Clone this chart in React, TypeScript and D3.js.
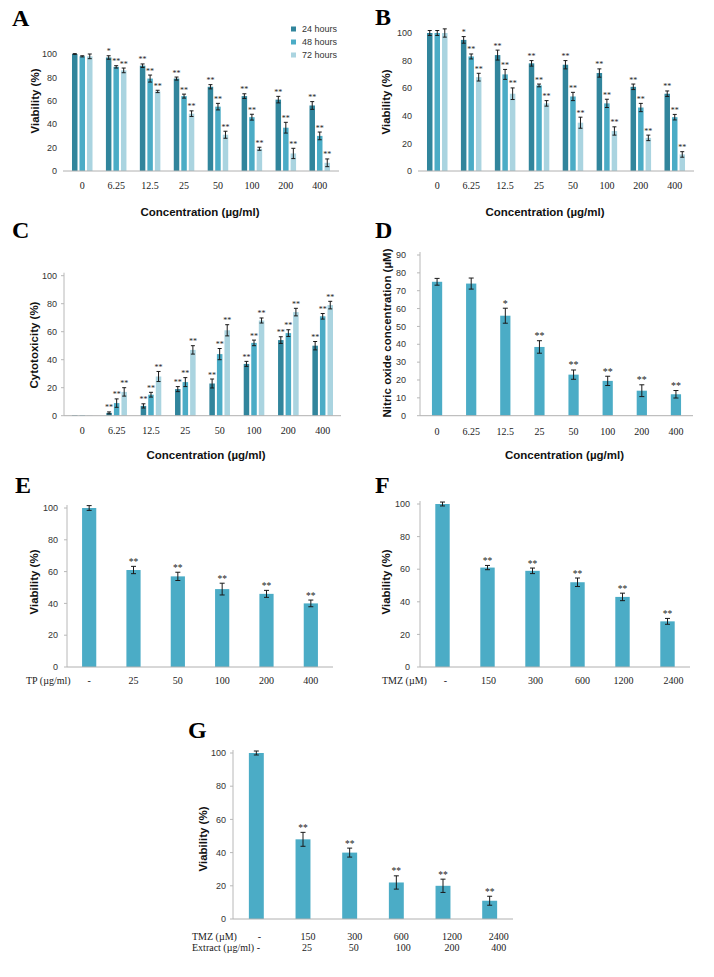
import React from "react";
import * as d3 from "d3";

const SANS = "'Liberation Sans', Arial, sans-serif";
const SERIF = "'Liberation Serif', 'Times New Roman', serif";

// ---------- data ----------
const concLabels = ["0", "6.25", "12.5", "25", "50", "100", "200", "400"];
const timeSeries = ["24 hours", "48 hours", "72 hours"];
const timeColors = ["#31859c", "#4bacc6", "#aad4e0"];
const singleColor = "#4bacc6";

const aMean24 = [100, 97, 90, 79, 72, 64, 61, 56];
const aMean48 = [98, 89, 79, 64, 55, 46, 37, 30];
const aMean72 = [98, 86, 68, 49, 31, 19, 15, 7];
const aErr24 = [0.3, 1.5, 1.5, 1.3, 1.8, 2, 2.8, 3.3];
const aErr48 = [0.5, 1, 3, 1.7, 2.8, 2.5, 4.6, 3.3];
const aErr72 = [2, 2, 1, 2.4, 3, 1.3, 4.4, 3.3];
const aSig24 = ["", "*", "**", "**", "**", "**", "**", "**"];
const aSig48 = ["", "**", "**", "**", "**", "**", "**", "**"];
const aSig72 = ["", "**", "**", "**", "**", "**", "**", "**"];

const bMean24 = [100, 95, 84, 78, 77, 71, 61, 56];
const bMean48 = [100, 83, 70, 62, 54, 49, 46, 39];
const bMean72 = [100, 68, 56, 49, 35, 29, 24, 12];
const bErr24 = [1.8, 2.4, 3.6, 2, 3, 3, 2, 2];
const bErr48 = [1.8, 1.8, 3.6, 1, 3, 3, 3, 2];
const bErr72 = [3, 2.8, 4.2, 2, 4, 3, 2, 2];
const bSig24 = ["", "*", "**", "**", "**", "**", "**", "**"];
const bSig48 = ["", "**", "**", "**", "**", "**", "**", "**"];
const bSig72 = ["", "**", "**", "**", "**", "**", "**", "**"];

const cMean24 = [0.5, 2, 7, 19, 23, 37, 54, 50];
const cMean48 = [0.5, 9, 15, 24, 44, 52, 59, 71];
const cMean72 = [0.3, 17, 28, 47, 61, 68, 74, 79];
const cErr24 = [0, 0.7, 1.5, 1.8, 3.2, 1.8, 2.4, 3];
const cErr48 = [0, 3, 1.7, 3.2, 4, 2, 2.4, 2];
const cErr72 = [0, 3, 3.6, 3, 4, 1.8, 2.7, 2.7];
const cSig24 = ["", "**", "**", "**", "**", "**", "**", "**"];
const cSig48 = ["", "**", "**", "**", "**", "**", "**", "**"];
const cSig72 = ["", "**", "**", "**", "**", "**", "**", "**"];

const dMean = [75, 74, 56, 38.5, 23, 19.5, 14, 12];
const dErr = [1.9, 3.1, 4.2, 3.5, 2.6, 2.6, 3.3, 2.1];
const dSig = ["", "", "*", "**", "**", "**", "**", "**"];

const tpLabels = ["-", "25", "50", "100", "200", "400"];
const eMean = [100, 61, 57, 49, 46, 40];
const eErr = [1.5, 2.3, 2.6, 3.7, 2.2, 2.1];
const eSig = ["", "**", "**", "**", "**", "**"];

const tmzLabels = ["-", "150", "300", "600", "1200", "2400"];
const fMean = [100, 61, 59, 52, 43, 28];
const fErr = [1.2, 1.3, 1.7, 2.6, 2.3, 1.8];
const fSig = ["", "**", "**", "**", "**", "**"];

const extractLabels = ["-", "25", "50", "100", "200", "400"];
const gMean = [100, 48, 40, 22, 20, 11];
const gErr = [1.2, 4.2, 2.7, 4, 4, 2.7];
const gSig = ["", "**", "**", "**", "**", "**"];

// ---------- component ----------
interface Series {
  name: string;
  color: string;
  mean: number[];
  err: number[];
  sig: string[];
}

interface LabelRow {
  values: string[];
  y: number;
  dx?: number[];
}

interface PanelProps {
  categories: string[];
  series: Series[];
  x0: number;
  x1: number;
  inner: number;
  outer: number;
  subPad: number;
  yBase: number;
  yTop: number;
  yMax: number;
  tickStep: number;
  axisLine: boolean;
  labelRight: number;
  tickFont: number;
  rows: LabelRow[];
  capW: number;
  sigFont: number;
}

function BarPanel(p: PanelProps) {
  const x = d3
    .scaleBand<string>()
    .domain(p.categories)
    .range([p.x0, p.x1])
    .paddingInner(p.inner)
    .paddingOuter(p.outer);
  const sub = d3
    .scaleBand<string>()
    .domain(p.series.map((s) => s.name))
    .range([0, x.bandwidth()])
    .paddingInner(p.subPad)
    .paddingOuter(0);
  const y = d3.scaleLinear().domain([0, p.yMax]).range([p.yBase, p.yTop]);
  const ticks = d3.range(0, p.yMax + p.tickStep / 2, p.tickStep);
  return (
    <g>
      {p.axisLine && (
        <line x1={p.x0} x2={p.x0} y1={p.yBase} y2={p.yTop - 3} stroke="#b8b8b8" strokeWidth={1} />
      )}
      {ticks.map((t) => (
        <g key={t}>
          {p.axisLine && (
            <line x1={p.x0 - 3} x2={p.x0} y1={y(t)} y2={y(t)} stroke="#b8b8b8" strokeWidth={1} />
          )}
          <text
            x={p.labelRight}
            y={y(t)}
            dy="0.35em"
            textAnchor="end"
            fontFamily={SANS}
            fontSize={p.tickFont}
            fill="#333"
          >
            {t}
          </text>
        </g>
      ))}
      {p.series.map((s) =>
        p.categories.map((c, i) => {
          const bx = (x(c) as number) + (sub(s.name) as number);
          const w = sub.bandwidth();
          const cx = bx + w / 2;
          const v = s.mean[i];
          const e = s.err[i];
          const top = y(v + e);
          return (
            <g key={s.name + c}>
              <rect x={bx} y={y(v)} width={w} height={p.yBase - y(v)} fill={s.color} />
              {e > 0 && (
                <g stroke="#1a1a1a" strokeWidth={1}>
                  <line x1={cx} x2={cx} y1={y(v - e)} y2={top} />
                  <line x1={cx - p.capW / 2} x2={cx + p.capW / 2} y1={top} y2={top} />
                  <line x1={cx - p.capW / 2} x2={cx + p.capW / 2} y1={y(v - e)} y2={y(v - e)} />
                </g>
              )}
              {s.sig[i] && (
                <text
                  x={cx}
                  y={top - 1.5}
                  textAnchor="middle"
                  fontFamily={SERIF}
                  fontSize={p.sigFont}
                  fill="#1a1a1a"
                >
                  {s.sig[i]}
                </text>
              )}
            </g>
          );
        })
      )}
      <line x1={p.x0} x2={p.x1} y1={p.yBase} y2={p.yBase} stroke="#b0b0b0" strokeWidth={1} />
      {p.rows.map((r, ri) =>
        p.categories.map((c, i) => (
          <text
            key={ri + "-" + c}
            x={(x(c) as number) + x.bandwidth() / 2 + (r.dx ? r.dx[i] : 0)}
            y={r.y}
            textAnchor="middle"
            fontFamily={SERIF}
            fontSize={10}
            fill="#1a1a1a"
          >
            {r.values[i]}
          </text>
        ))
      )}
    </g>
  );
}

function YTitle({ x, y, text }: { x: number; y: number; text: string }) {
  return (
    <text
      transform={`translate(${x},${y}) rotate(-90)`}
      textAnchor="middle"
      dominantBaseline="central"
      fontFamily={SANS}
      fontWeight="bold"
      fontSize={11.5}
      fill="#111"
    >
      {text}
    </text>
  );
}

function XTitle({ x, y, text }: { x: number; y: number; text: string }) {
  return (
    <text x={x} y={y} textAnchor="middle" fontFamily={SANS} fontWeight="bold" fontSize={11.5} fill="#111">
      {text}
    </text>
  );
}

function Letter({ x, y, text }: { x: number; y: number; text: string }) {
  return (
    <text x={x} y={y} fontFamily={SERIF} fontWeight="bold" fontSize={24} fill="#000">
      {text}
    </text>
  );
}

function mk(names: string[], colors: string[], means: number[][], errs: number[][], sigs: string[][]): Series[] {
  return names.map((n, i) => ({ name: n, color: colors[i], mean: means[i], err: errs[i], sig: sigs[i] }));
}

export default function App() {
  const aSeries = mk(timeSeries, timeColors, [aMean24, aMean48, aMean72], [aErr24, aErr48, aErr72], [aSig24, aSig48, aSig72]);
  const bSeries = mk(timeSeries, timeColors, [bMean24, bMean48, bMean72], [bErr24, bErr48, bErr72], [bSig24, bSig48, bSig72]);
  const cSeries = mk(timeSeries, timeColors, [cMean24, cMean48, cMean72], [cErr24, cErr48, cErr72], [cSig24, cSig48, cSig72]);
  const dSeries = mk(["NO"], [singleColor], [dMean], [dErr], [dSig]);
  const eSeries = mk(["TP"], [singleColor], [eMean], [eErr], [eSig]);
  const fSeries = mk(["TMZ"], [singleColor], [fMean], [fErr], [fSig]);
  const gSeries = mk(["Combo"], [singleColor], [gMean], [gErr], [gSig]);

  const grouped = { inner: 0.395, outer: 0.265, subPad: 0.27, tickStep: 20, yMax: 100, tickFont: 9, capW: 4, sigFont: 8 };
  const single = { inner: 0.68, outer: 0.34, subPad: 0, tickStep: 20, yMax: 100, tickFont: 9, capW: 5, sigFont: 9.5, axisLine: true };

  return (
    <div style={{ position: "absolute", left: 0, top: 0 }}>
      <svg width={714} height={977} style={{ display: "block", background: "#fff" }}>
        {/* A */}
        <Letter x={12} y={26} text="A" />
        <BarPanel
          {...grouped}
          categories={concLabels}
          series={aSeries}
          x0={63}
          x1={339}
          yBase={171}
          yTop={54}
          axisLine={false}
          labelRight={57}
          rows={[{ values: concLabels, y: 188.5 }]}
        />
        {timeSeries.map((s, i) => (
          <g key={s}>
            <rect x={291} y={26.5 + i * 13} width={5} height={5} fill={timeColors[i]} />
            <text x={302} y={29 + i * 13} dy="0.35em" fontFamily={SANS} fontSize={9} fill="#333">
              {s}
            </text>
          </g>
        ))}
        <YTitle x={34.5} y={101} text="Viability (%)" />
        <XTitle x={200} y={216} text="Concentration (µg/ml)" />

        {/* B */}
        <Letter x={375} y={25} text="B" />
        <BarPanel
          {...grouped}
          categories={concLabels}
          series={bSeries}
          x0={418}
          x1={694}
          yBase={171}
          yTop={33}
          axisLine={false}
          labelRight={412}
          rows={[{ values: concLabels, y: 188.5 }]}
        />
        <YTitle x={385.5} y={102} text="Viability (%)" />
        <XTitle x={545} y={216} text="Concentration (µg/ml)" />

        {/* C */}
        <Letter x={12} y={238} text="C" />
        <BarPanel
          {...grouped}
          inner={0.4}
          outer={0.233}
          categories={concLabels}
          series={cSeries}
          x0={64}
          x1={341}
          yBase={415.7}
          yTop={275.7}
          axisLine={true}
          labelRight={57}
          rows={[{ values: concLabels, y: 433.5 }]}
        />
        <YTitle x={34} y={345} text="Cytotoxicity (%)" />
        <XTitle x={206} y={458.5} text="Concentration (µg/ml)" />

        {/* D */}
        <Letter x={375} y={238} text="D" />
        <BarPanel
          categories={concLabels}
          series={dSeries}
          x0={420}
          x1={693}
          inner={0.7}
          outer={0.35}
          subPad={0}
          yBase={415.7}
          yTop={255}
          yMax={90}
          tickStep={10}
          axisLine={true}
          labelRight={406}
          tickFont={9}
          rows={[{ values: concLabels, y: 434.5 }]}
          capW={5}
          sigFont={10}
        />
        <YTitle x={386.5} y={333} text="Nitric oxide concentration (µM)" />
        <XTitle x={564.5} y={458.5} text="Concentration (µg/ml)" />

        {/* E */}
        <Letter x={15} y={493} text="E" />
        <BarPanel
          {...single}
          categories={tpLabels}
          series={eSeries}
          x0={67}
          x1={333}
          yBase={667}
          yTop={508}
          labelRight={58}
          rows={[{ values: tpLabels, y: 684 }]}
        />
        <text x={26} y={684} fontFamily={SERIF} fontSize={10} fill="#1a1a1a">TP (µg/ml)</text>
        <YTitle x={34} y={582} text="Viability (%)" />

        {/* F */}
        <Letter x={375} y={493} text="F" />
        <BarPanel
          {...single}
          categories={tmzLabels}
          series={fSeries}
          x0={420}
          x1={690}
          yBase={667}
          yTop={504}
          labelRight={410}
          rows={[{ values: tmzLabels, y: 684, dx: [3, 1, 3, 5, 1, 6] }]}
        />
        <text x={382} y={684} fontFamily={SERIF} fontSize={10} fill="#1a1a1a">TMZ (µM)</text>
        <YTitle x={386} y={582} text="Viability (%)" />

        {/* G */}
        <Letter x={188} y={738} text="G" />
        <BarPanel
          {...single}
          categories={tmzLabels}
          series={gSeries}
          x0={233}
          x1={513}
          yBase={919}
          yTop={753}
          labelRight={226}
          rows={[
            { values: tmzLabels, y: 940, dx: [3, 5, 5, 5, 9, 9] },
            { values: extractLabels, y: 951, dx: [2, 4, 4, 7, 9, 9] },
          ]}
        />
        <text x={192} y={940} fontFamily={SERIF} fontSize={10} fill="#1a1a1a">TMZ (µM)</text>
        <text x={192} y={951} fontFamily={SERIF} fontSize={10} fill="#1a1a1a">Extract (µg/ml)</text>
        <YTitle x={203} y={839} text="Viability (%)" />
      </svg>
    </div>
  );
}
